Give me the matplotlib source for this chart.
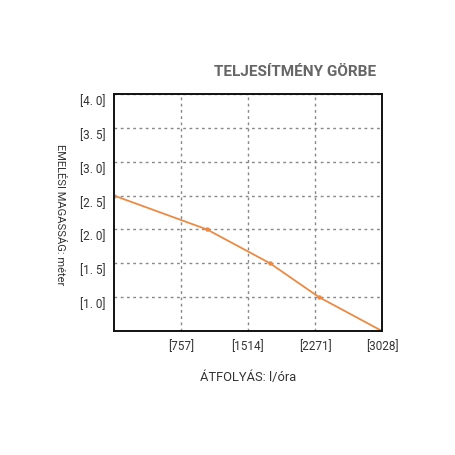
import matplotlib
matplotlib.use("Agg")
import matplotlib.pyplot as plt
from matplotlib.transforms import ScaledTranslation

# adatok a görbéről
flow = [0, 1050, 1763, 2316, 3028]
head = [2.5, 2.0, 1.5, 1.0, 0.5]

x_ticks = [757, 1514, 2271, 3028]
x_labels = ["[757]", "[1514]", "[2271]", "[3028]"]
y_ticks = [1.0, 1.5, 2.0, 2.5, 3.0, 3.5, 4.0]
y_labels = ["[1. 0]", "[1. 5]", "[2. 0]", "[2. 5]", "[3. 0]", "[3. 5]", "[4. 0]"]

plt.rcParams['font.family'] = ['Roboto', 'DejaVu Sans']

fig = plt.figure(figsize=(4.56, 4.56), dpi=100)
ax = fig.add_axes([114 / 456, 1 - 332 / 456, 268 / 456, 237 / 456])

ax.plot(flow, head, color='#ec8a44', linewidth=1.3, marker='o', markersize=2.2)

ax.set_xlim(0, 3028)
ax.set_ylim(0.5, 4.0)
ax.set_xticks(x_ticks)
ax.set_xticklabels(x_labels, fontsize=8.5, color='#333333')
ax.set_yticks(y_ticks)
ax.set_yticklabels(y_labels, fontsize=8.5, color='#333333')
ax.tick_params(length=0, pad=6)

# a y feliratok kicsit a rácsvonal alatt vannak
shift = ScaledTranslation(0, -5 / 100, fig.dpi_scale_trans)
for lbl in ax.get_yticklabels():
    lbl.set_transform(lbl.get_transform() + shift)

ax.grid(True, linestyle=(0, (2, 2.5)), color='#888888', linewidth=1.0)
for s in ax.spines.values():
    s.set_linewidth(1.4)
    s.set_color('#111111')

fig.text(295 / 456, 1 - 72 / 456, "TELJESÍTMÉNY GÖRBE", fontsize=11,
         fontweight='bold', color='#666666', ha='center', va='center')
fig.text(60 / 456, 1 - 215 / 456, "EMELÉSI MAGASSÁG: méter", fontsize=8,
         rotation=-90, color='#333333', ha='center', va='center')
fig.text(248 / 456, 1 - 378 / 456, "ÁTFOLYÁS: l/óra", fontsize=9.3,
         color='#333333', ha='center', va='center')

fig.savefig("out.png", dpi=100)
